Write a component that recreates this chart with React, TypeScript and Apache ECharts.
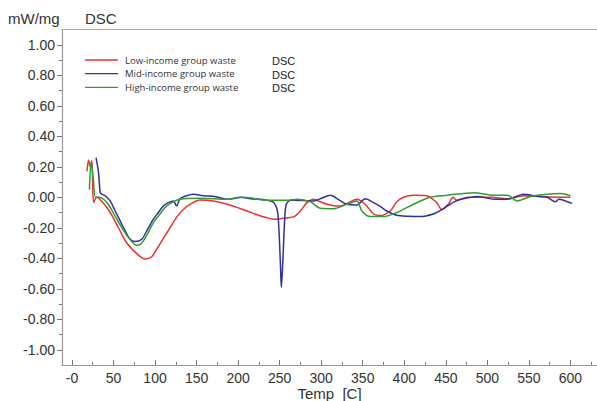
import React, { useEffect, useRef } from "react";
import * as echarts from "echarts";

const lowTemp = [18, 20, 22, 24, 26, 30, 38, 46, 56, 66, 78, 88, 96, 102, 110, 118, 126, 134, 144, 154, 170, 187, 203, 211, 223, 235, 243, 259, 268, 275, 283, 291, 299, 307, 315, 323, 333, 343, 353, 363, 371, 383, 391, 399, 411, 427, 439, 445, 453, 459, 463, 476, 490, 504, 524, 544, 564, 584, 600];
const lowVal = [0.17, 0.245, 0.2, 0.24, -0.035, 0.0, -0.04, -0.1, -0.2, -0.3, -0.37, -0.405, -0.39, -0.34, -0.27, -0.2, -0.13, -0.08, -0.04, -0.018, -0.025, -0.046, -0.075, -0.09, -0.115, -0.135, -0.144, -0.135, -0.125, -0.09, -0.035, -0.013, -0.03, -0.046, -0.055, -0.057, -0.035, -0.013, -0.046, -0.11, -0.12, -0.09, -0.03, 0.0, 0.013, 0.01, -0.035, -0.08, -0.046, 0.0, -0.02, 0.0, 0.0, 0.0, -0.01, 0.01, 0.003, 0.0, 0.0];

const midTemp = [29, 32, 34, 36, 40, 46, 52, 58, 64, 70, 76, 84, 91, 98, 104, 110, 116, 122, 126, 130, 138, 146, 158, 172, 187, 203, 215, 227, 235, 239, 243, 247, 249, 251, 252, 254, 256, 258, 263, 267, 279, 291, 301, 311, 321, 331, 343, 353, 363, 371, 379, 391, 405, 419, 435, 444, 452, 460, 468, 488, 508, 524, 544, 556, 572, 582, 586, 594, 602];
const midVal = [0.26, 0.16, 0.03, 0.02, 0.01, -0.024, -0.09, -0.155, -0.22, -0.275, -0.29, -0.275, -0.21, -0.144, -0.1, -0.057, -0.035, -0.024, -0.057, -0.01, 0.01, 0.02, 0.01, 0.005, -0.013, 0.0, -0.01, -0.013, -0.02, -0.024, -0.035, -0.08, -0.2, -0.45, -0.59, -0.4, -0.15, -0.046, -0.02, -0.02, -0.022, -0.024, -0.005, 0.013, -0.015, -0.046, -0.05, -0.01, -0.035, -0.06, -0.09, -0.118, -0.125, -0.127, -0.11, -0.085, -0.057, -0.03, -0.013, 0.005, -0.013, -0.013, 0.02, 0.01, 0.0, -0.03, -0.013, -0.024, -0.04];

const highTemp = [21, 23, 24, 26, 28, 32, 42, 54, 66, 78, 84, 91, 98, 106, 114, 130, 154, 187, 207, 235, 259, 271, 287, 299, 315, 331, 343, 349, 359, 375, 391, 411, 431, 452, 484, 508, 524, 536, 552, 572, 588, 600];
const highVal = [0.05, 0.23, 0.2, 0.1, 0.0, 0.0, -0.035, -0.144, -0.25, -0.315, -0.3, -0.24, -0.166, -0.11, -0.057, -0.013, -0.006, -0.013, 0.0, -0.02, -0.02, -0.013, -0.03, -0.072, -0.075, -0.046, -0.024, -0.09, -0.127, -0.127, -0.1, -0.046, 0.0, 0.013, 0.03, 0.013, 0.013, -0.024, 0.005, 0.02, 0.024, 0.01];

const seriesNames = ["Low-income group waste", "Mid-income group waste", "High-income group waste"];
const seriesColors = ["#f03030", "#30309e", "#2e9e2e"];

const xMajorTicks = [0, 50, 100, 150, 200, 250, 300, 350, 400, 450, 500, 550, 600];
const xMinorTicks = [25, 75, 125, 175, 225, 275, 325, 375, 425, 475, 525, 575, 625];
const yMajorTicks = [-1.0, -0.8, -0.6, -0.4, -0.2, 0, 0.2, 0.4, 0.6, 0.8, 1.0];
const yMinorTicks = [-0.9, -0.7, -0.5, -0.3, -0.1, 0.1, 0.3, 0.5, 0.7, 0.9];

const zip = (a: number[], b: number[]) => a.map((v, i) => [v, b[i]]);

export default function App() {
  const ref = useRef<HTMLDivElement>(null);
  useEffect(() => {
    if (!ref.current) return;
    const chart = echarts.init(ref.current, null, { renderer: "svg" });
    const axisLineColor = "#999";
    const labelColor = "#333";
    const legendY = [60, 73.7, 87.4];
    const graphics: any[] = [
      { type: "text", left: 8, top: 11, style: { text: "mW/mg", font: "15px 'Liberation Sans', Arial, sans-serif", fill: "#333" } },
      { type: "text", left: 85, top: 11, style: { text: "DSC", font: "15px 'Liberation Sans', Arial, sans-serif", fill: "#333" } },
    ];
    seriesNames.forEach((n, i) => {
      graphics.push({ type: "line", shape: { x1: 85, y1: legendY[i], x2: 118, y2: legendY[i] }, style: { stroke: seriesColors[i], lineWidth: 1.3 } });
      graphics.push({ type: "text", x: 125, y: legendY[i], style: { text: n, font: "9.5px 'Open Sans', sans-serif", fill: "#333", verticalAlign: "middle" } });
      graphics.push({ type: "text", x: 272, y: legendY[i] + 1, style: { text: "DSC", font: "11px 'Liberation Sans', Arial, sans-serif", fill: "#222", verticalAlign: "middle" } });
    });
    const labelFont = { fontFamily: "'Liberation Sans', Arial, sans-serif", fontSize: 14, color: labelColor };
    chart.setOption({
      animation: false,
      backgroundColor: "#fff",
      grid: { left: 62, right: 0, top: 29.5, bottom: 36, outerBoundsMode: "none", containLabel: false },
      xAxis: [
        {
          type: "value", min: -12, max: 632, position: "bottom",
          name: "Temp  [C]", nameLocation: "middle", nameGap: 21, nameMoveOverlap: false,
          nameTextStyle: { fontFamily: "'Liberation Sans', Arial, sans-serif", fontSize: 15, color: labelColor, lineHeight: 15 },
          axisLine: { show: true, onZero: false, lineStyle: { color: axisLineColor, width: 1.2 } },
          axisTick: { show: true, inside: true, length: 5, customValues: xMajorTicks, lineStyle: { color: "#777" } },
          axisLabel: { ...labelFont, margin: 6, customValues: xMajorTicks, formatter: (v: number) => (v === 0 ? "-0" : String(v)) },
          splitLine: { show: false },
        },
        {
          type: "value", min: -12, max: 632, position: "bottom",
          axisLine: { show: false, onZero: false },
          axisTick: { show: true, inside: true, length: 3, customValues: xMinorTicks, lineStyle: { color: "#777" } },
          axisLabel: { show: false },
          splitLine: { show: false },
        },
        {
          type: "value", min: -12, max: 632, position: "top",
          axisLine: { show: true, onZero: false, lineStyle: { color: "#aaa", width: 1.2 } },
          axisTick: { show: false }, axisLabel: { show: false }, splitLine: { show: false },
        },
      ],
      yAxis: [
        {
          type: "value", min: -1.1, max: 1.1, position: "left",
          axisLine: { show: true, onZero: false, lineStyle: { color: axisLineColor, width: 1.2 } },
          axisTick: { show: true, length: 5, customValues: yMajorTicks, lineStyle: { color: "#777" } },
          axisLabel: { ...labelFont, margin: 7, customValues: yMajorTicks, formatter: (v: number) => v.toFixed(2) },
          splitLine: { show: false },
        },
        {
          type: "value", min: -1.1, max: 1.1, position: "left",
          axisLine: { show: false, onZero: false },
          axisTick: { show: true, length: 3, customValues: yMinorTicks, lineStyle: { color: "#777" } },
          axisLabel: { show: false },
          splitLine: { show: false },
        },
      ],
      series: [
        { name: seriesNames[0], type: "line", data: zip(lowTemp, lowVal) },
        { name: seriesNames[1], type: "line", data: zip(midTemp, midVal) },
        { name: seriesNames[2], type: "line", data: zip(highTemp, highVal) },
      ].map((s, i) => ({
        ...s, xAxisIndex: 0, yAxisIndex: 0, showSymbol: false, smooth: 0.3,
        lineStyle: { color: seriesColors[i], width: 1.5 }, itemStyle: { color: seriesColors[i] },
      })),
      graphic: graphics,
    });
    return () => chart.dispose();
  }, []);
  return <div ref={ref} style={{ position: "fixed", left: 0, top: 0, width: 597, height: 401, background: "#fff" }} />;
}
